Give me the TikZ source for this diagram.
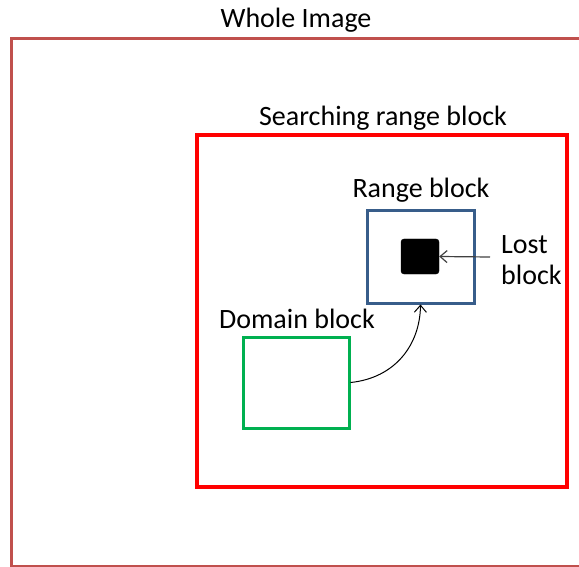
\documentclass[tikz,border=0pt]{standalone}
\usepackage{fontspec}
\setmainfont{Carlito}
\usetikzlibrary{arrows.meta}
\definecolor{wholered}{RGB}{192,80,77}
\definecolor{searchred}{RGB}{255,0,0}
\definecolor{rangeblue}{RGB}{56,93,138}
\definecolor{domaingreen}{RGB}{0,176,80}
\definecolor{arrowgray}{RGB}{64,64,64}
\tikzset{
  blockbox/.style={draw, inner sep=0pt, line width=3pt, anchor=center},
  caption/.style={inner sep=0pt, font=\fontsize{28}{31}\selectfont, text=black},
}
\begin{document}
\begin{tikzpicture}[x=1pt, y=-1pt]
  \useasboundingbox (0,0) rectangle (579,567);
  \clip (0,0) rectangle (579,567);
  % outer frame, its right side runs off the page
  \node[blockbox, draw=wholered, minimum width=590pt, minimum height=527pt] (whole) at (306,302.5) {};
  \node[caption] (wholelabel) at (296,20) {Whole Image};
  % searching range
  \node[blockbox, draw=searchred, line width=3.5pt, minimum width=370pt, minimum height=352pt] (search) at (382,311) {};
  \node[caption] (searchlabel) at (383,118) {Searching range block};
  % range block with the lost block inside
  \node[blockbox, draw=rangeblue, minimum width=107pt, minimum height=92pt] (range) at (420.5,257) {};
  \node[caption] (rangelabel) at (421,190) {Range block};
  \node[draw=black, fill=black, rounded corners=3pt, inner sep=0pt, minimum width=38pt, minimum height=35pt] (lost) at (420,256.5) {};
  \node[caption, anchor=west, align=left] (lostlabel) at (501,260) {Lost\\block};
  % domain block
  \node[blockbox, draw=domaingreen, minimum width=106pt, minimum height=91pt] (domain) at (296,382.5) {};
  \node[caption] (domainlabel) at (297,319) {Domain block};
  % connectors
  \coordinate (lostfrom) at (490,257);
  \draw[arrowgray, line width=1.2pt, -{Straight Barb[length=7pt,width=12pt]}] (lostfrom) -- (lost.east);
  \draw[black, line width=1pt, -{Straight Barb[length=7pt,width=12pt]}]
    (domain.east) .. controls (395,378) and (420,345) .. (range.south);
\end{tikzpicture}
\end{document}
